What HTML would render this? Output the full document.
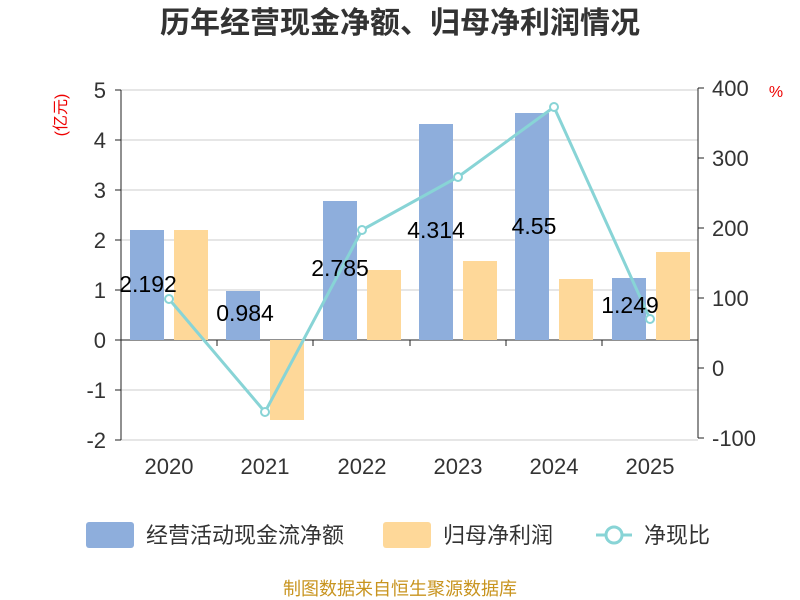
<!DOCTYPE html>
<html><head><meta charset="utf-8"><style>
html,body{margin:0;padding:0;background:#fff;}
svg{display:block;font-family:"Liberation Sans","Noto Sans CJK SC",sans-serif;}
</style></head><body>
<svg width="800" height="600" viewBox="0 0 800 600">
<text x="400" y="33" text-anchor="middle" font-size="30" font-weight="bold" fill="#333">历年经营现金净额、归母净利润情况</text>
<g stroke="#ccc" stroke-width="1">
<line x1="121" x2="698" y1="90" y2="90"/><line x1="121" x2="698" y1="140" y2="140"/>
<line x1="121" x2="698" y1="190" y2="190"/><line x1="121" x2="698" y1="240" y2="240"/>
<line x1="121" x2="698" y1="290" y2="290"/><line x1="121" x2="698" y1="390" y2="390"/>
<line x1="121" x2="698" y1="440" y2="440"/>
</g>
<g stroke="#222" stroke-width="1">
<line x1="121" x2="121" y1="90" y2="440"/><line x1="698" x2="698" y1="88" y2="438"/>
<line x1="121" x2="698" y1="340" y2="340"/>
<line x1="121" x2="121" y1="340" y2="346"/><line x1="217" x2="217" y1="340" y2="346"/>
<line x1="313" x2="313" y1="340" y2="346"/><line x1="410" x2="410" y1="340" y2="346"/>
<line x1="506" x2="506" y1="340" y2="346"/><line x1="602" x2="602" y1="340" y2="346"/>
<line x1="698" x2="698" y1="340" y2="346"/>
<line x1="115" x2="121" y1="90" y2="90"/><line x1="115" x2="121" y1="140" y2="140"/>
<line x1="115" x2="121" y1="190" y2="190"/><line x1="115" x2="121" y1="240" y2="240"/>
<line x1="115" x2="121" y1="290" y2="290"/><line x1="115" x2="121" y1="340" y2="340"/>
<line x1="115" x2="121" y1="390" y2="390"/><line x1="115" x2="121" y1="440" y2="440"/>
<line x1="698" x2="704" y1="88" y2="88"/><line x1="698" x2="704" y1="158" y2="158"/>
<line x1="698" x2="704" y1="228" y2="228"/><line x1="698" x2="704" y1="298" y2="298"/>
<line x1="698" x2="704" y1="368" y2="368"/><line x1="698" x2="704" y1="438" y2="438"/>
</g>
<g font-size="22" fill="#333" text-anchor="end">
<text x="106" y="98">5</text><text x="106" y="148">4</text><text x="106" y="198">3</text>
<text x="106" y="248">2</text><text x="106" y="298">1</text><text x="106" y="348">0</text>
<text x="106" y="398">-1</text><text x="106" y="448">-2</text>
</g>
<g font-size="22" fill="#333" text-anchor="start">
<text x="712" y="96">400</text><text x="712" y="166">300</text><text x="712" y="236">200</text>
<text x="712" y="306">100</text><text x="712" y="376">0</text><text x="712" y="446">-100</text>
</g>
<text x="0" y="0" font-size="16" fill="#e00" transform="translate(66,115) rotate(-90)" text-anchor="middle">(亿元)</text>
<text x="776" y="97" font-size="16" fill="#e00" text-anchor="middle">%</text>
<g font-size="22" fill="#333" text-anchor="middle">
<text x="169" y="474">2020</text><text x="265" y="474">2021</text><text x="362" y="474">2022</text>
<text x="458" y="474">2023</text><text x="554" y="474">2024</text><text x="650" y="474">2025</text>
</g>
<g fill="#8eaedc">
<rect x="130" y="230" width="34" height="110"/><rect x="226" y="291" width="34" height="49"/>
<rect x="323" y="201" width="34" height="139"/><rect x="419" y="124" width="34" height="216"/>
<rect x="515" y="113" width="34" height="227"/><rect x="612" y="278" width="34" height="62"/>
</g>
<g fill="#fed899">
<rect x="174" y="230" width="34" height="110"/><rect x="270" y="340" width="34" height="80"/>
<rect x="367" y="270" width="34" height="70"/><rect x="463" y="261" width="34" height="79"/>
<rect x="559" y="279" width="34" height="61"/><rect x="656" y="252" width="34" height="88"/>
</g>
<polyline points="169,299 265,412 362,230 458,177 554,107 650,319" fill="none" stroke="#88d4d6" stroke-width="3"/>
<g fill="#fff" stroke="#88d4d6" stroke-width="2">
<circle cx="169" cy="299" r="4"/><circle cx="265" cy="412" r="4"/><circle cx="362" cy="230" r="4"/>
<circle cx="458" cy="177" r="4"/><circle cx="554" cy="107" r="4"/><circle cx="650" cy="319" r="4"/>
</g>
<g font-size="23" fill="#000" text-anchor="middle">
<text x="148" y="292">2.192</text><text x="245" y="321">0.984</text><text x="340" y="276">2.785</text>
<text x="436" y="238">4.314</text><text x="534" y="234">4.55</text><text x="630" y="313">1.249</text>
</g>
<rect x="86" y="522" width="48" height="26" rx="3" fill="#8eaedc"/>
<text x="146" y="543" font-size="22" fill="#333">经营活动现金流净额</text>
<rect x="383" y="522" width="48" height="26" rx="3" fill="#fed899"/>
<text x="443" y="543" font-size="22" fill="#333">归母净利润</text>
<line x1="596" x2="632" y1="535" y2="535" stroke="#88d4d6" stroke-width="3"/>
<circle cx="614" cy="535" r="8" fill="#fff" stroke="#88d4d6" stroke-width="3"/>
<text x="644" y="543" font-size="22" fill="#333">净现比</text>
<text x="400" y="595" text-anchor="middle" font-size="18" fill="#c8941f">制图数据来自恒生聚源数据库</text>
</svg>
</body></html>
